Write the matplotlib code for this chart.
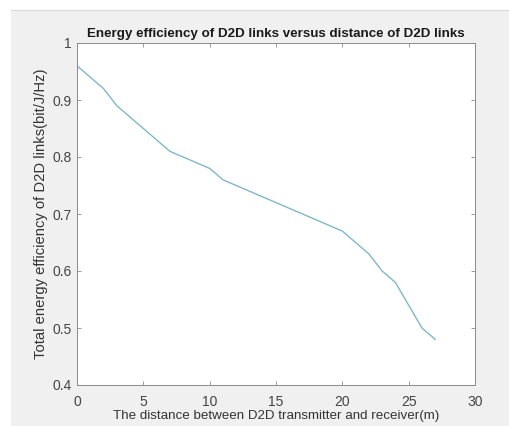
import matplotlib
matplotlib.use("Agg")
import matplotlib.pyplot as plt
from matplotlib.patches import Rectangle
from matplotlib.lines import Line2D

distance = [0, 1, 2, 3, 4, 5, 6, 7, 8, 9, 10, 11, 12, 13, 14, 15, 16, 17, 18, 19, 20, 21, 22, 23, 24, 25, 26, 27]
efficiency = [0.96, 0.94, 0.92, 0.89, 0.87, 0.85, 0.83, 0.81, 0.80, 0.79, 0.78, 0.76, 0.75, 0.74, 0.73, 0.72, 0.71, 0.70, 0.69, 0.68, 0.67, 0.65, 0.63, 0.60, 0.58, 0.54, 0.50, 0.48]
xticks = [0, 5, 10, 15, 20, 25, 30]
yticks = [0.4, 0.5, 0.6, 0.7, 0.8, 0.9, 1]
ytick_labels = ["0.4", "0.5", "0.6", "0.7", "0.8", "0.9", "1"]

plt.rcParams['font.family'] = ['Liberation Sans', 'DejaVu Sans']

fig = plt.figure(figsize=(5.1, 4.26), dpi=100, facecolor='white')
bg = Rectangle((11/510, 0), 1 - 11/510, (426 - 10)/426, transform=fig.transFigure,
               facecolor='#f0f0f0', edgecolor='none', zorder=-10)
fig.patches.append(bg)
fig.lines.append(Line2D([11/510, 1], [(426 - 10)/426]*2, transform=fig.transFigure,
                        color='#d8d8d8', lw=0.8))

ax = fig.add_axes([77/510, 41/426, (475 - 77)/510, (385 - 43)/426])
ax.set_facecolor('white')
ax.plot(distance, efficiency, color='#80b8c8', lw=1.0)
ax.set_xlim(0, 30)
ax.set_ylim(0.4, 1)
ax.set_xticks(xticks)
ax.set_yticks(yticks)
ax.set_yticklabels(ytick_labels)
ax.tick_params(direction='in', top=True, right=True, length=3, width=0.6,
               colors='#8a8a8a', labelcolor='#444444', labelsize=10)
ax.tick_params(axis='x', pad=7)
ax.tick_params(axis='y', pad=4)
for s in ax.spines.values():
    s.set_color('#8a8a8a')
    s.set_linewidth(0.7)
ax.set_title('Energy efficiency of D2D links versus distance of D2D links',
             fontsize=9.6, fontweight='bold', color='#1a1a1a', pad=4)
ax.set_xlabel('The distance between D2D transmitter and receiver(m)', fontsize=9.6,
              color='#333333', labelpad=1)
ax.set_ylabel('Total energy efficiency of D2D links(bit/J/Hz)', fontsize=10.6,
              color='#333333', labelpad=3)

fig.savefig('out.png', dpi=100, facecolor=fig.get_facecolor())
